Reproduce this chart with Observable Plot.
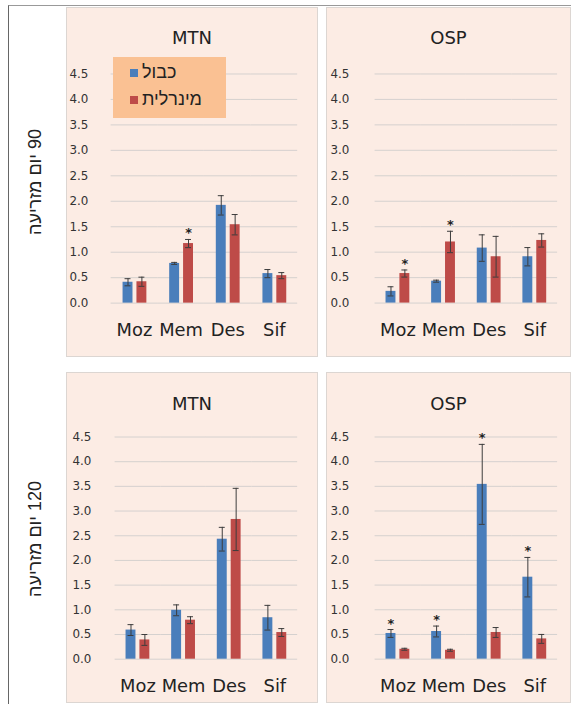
<!DOCTYPE html>
<html><head><meta charset="utf-8">
<script src="https://cdn.jsdelivr.net/npm/d3@7"></script>
<script src="https://cdn.jsdelivr.net/npm/@observablehq/plot@0.6"></script>
<style>
body{margin:0;background:#fff;width:571px;height:708px;overflow:hidden;position:relative;font-family:"DejaVu Sans",sans-serif;}
#frame{position:absolute;left:8px;top:5px;right:-2px;bottom:4px;border-left:1px solid #666;border-top:1px solid #999;}
.panel{position:absolute;background:#fcece4;border:1px solid #dcd6d2;box-sizing:border-box;}
.panel svg{position:absolute;left:0;top:0;}
.title{position:absolute;left:0;right:0;text-align:center;font-size:18px;color:#222;}
.rowlab{position:absolute;width:220px;height:22px;line-height:22px;text-align:center;transform:rotate(-90deg);direction:rtl;font-family:"Liberation Sans",sans-serif;font-size:18px;color:#222;white-space:nowrap;}
.legend{position:absolute;left:46px;top:49px;width:113px;height:61px;background:#fac193;}
.legend .item{position:absolute;left:17px;display:flex;align-items:center;font-family:"Liberation Sans",sans-serif;font-size:18px;color:#222;}
.legend .sw{width:8px;height:8px;margin-right:4px;}
</style>
</head><body>
<div id="frame"></div>
<div id="root"></div>
<script>
const categories = ["Moz", "Mem", "Des", "Sif"];
const series = ["כבול", "מינרלית"];
const seriesColors = ["#4a7ebb", "#be4b48"];
const yTicks = [0, 0.5, 1, 1.5, 2, 2.5, 3, 3.5, 4, 4.5];
const rowLabels = ["90 יום מזריעה", "120 יום מזריעה"];
const panelTitles = ["MTN", "OSP", "MTN", "OSP"];

// 90 days, MTN
const mtn90Peat = [0.41, 0.78, 1.92, 0.58];
const mtn90PeatErr = [0.07, 0.02, 0.19, 0.08];
const mtn90PeatSig = [0, 0, 0, 0];
const mtn90Min = [0.42, 1.17, 1.54, 0.54];
const mtn90MinErr = [0.09, 0.08, 0.20, 0.06];
const mtn90MinSig = [0, 1, 0, 0];
// 90 days, OSP
const osp90Peat = [0.23, 0.43, 1.08, 0.91];
const osp90PeatErr = [0.09, 0.02, 0.26, 0.18];
const osp90PeatSig = [0, 0, 0, 0];
const osp90Min = [0.58, 1.20, 0.91, 1.23];
const osp90MinErr = [0.07, 0.21, 0.40, 0.13];
const osp90MinSig = [1, 1, 0, 0];
// 120 days, MTN
const mtn120Peat = [0.59, 0.99, 2.43, 0.84];
const mtn120PeatErr = [0.11, 0.11, 0.24, 0.25];
const mtn120PeatSig = [0, 0, 0, 0];
const mtn120Min = [0.39, 0.79, 2.83, 0.54];
const mtn120MinErr = [0.11, 0.07, 0.63, 0.08];
const mtn120MinSig = [0, 0, 0, 0];
// 120 days, OSP
const osp120Peat = [0.52, 0.56, 3.54, 1.66];
const osp120PeatErr = [0.08, 0.11, 0.81, 0.40];
const osp120PeatSig = [1, 1, 1, 1];
const osp120Min = [0.20, 0.18, 0.54, 0.41];
const osp120MinErr = [0.02, 0.02, 0.10, 0.09];
const osp120MinSig = [0, 0, 0, 0];

function rowsOf(peat, peatErr, peatSig, min, minErr, minSig) {
  const rows = [];
  categories.forEach((c, i) => {
    rows.push({cat: c, s: series[0], v: peat[i], e: peatErr[i], sig: peatSig[i]});
    rows.push({cat: c, s: series[1], v: min[i], e: minErr[i], sig: minSig[i]});
  });
  return rows;
}

const panelData = [
  rowsOf(mtn90Peat, mtn90PeatErr, mtn90PeatSig, mtn90Min, mtn90MinErr, mtn90MinSig),
  rowsOf(osp90Peat, osp90PeatErr, osp90PeatSig, osp90Min, osp90MinErr, osp90MinSig),
  rowsOf(mtn120Peat, mtn120PeatErr, mtn120PeatSig, mtn120Min, mtn120MinErr, mtn120MinSig),
  rowsOf(osp120Peat, osp120PeatErr, osp120PeatSig, osp120Min, osp120MinErr, osp120MinSig)
];

// layout of the four panels (page boxes) and plot margins
const layout = [
  {left: 66, top: 7, w: 252, h: 350, ml: 44, mr: 20, mt: 66, mb: 53, tp: 23, titleTop: 19},
  {left: 326, top: 7, w: 245, h: 350, ml: 47, mr: 13, mt: 66, mb: 53, tp: 26, titleTop: 19},
  {left: 66, top: 372, w: 252, h: 331, ml: 47, mr: 20, mt: 64, mb: 43, tp: 24, titleTop: 20},
  {left: 326, top: 372, w: 245, h: 331, ml: 47, mr: 13, mt: 64, mb: 43, tp: 26, titleTop: 20}
];

const root = document.getElementById("root");

rowLabels.forEach((t, i) => {
  const d = document.createElement("div");
  d.className = "rowlab";
  const cy = i === 0 ? 182 : 539;
  d.style.left = (35 - 110) + "px";
  d.style.top = (cy - 11) + "px";
  d.textContent = t;
  root.appendChild(d);
});

panelData.forEach((rows, k) => {
  const L = layout[k];
  const div = document.createElement("div");
  div.className = "panel";
  Object.assign(div.style, {left: L.left + "px", top: L.top + "px", width: L.w + "px", height: L.h + "px"});
  const chart = Plot.plot({
    width: L.w, height: L.h,
    marginLeft: L.ml, marginRight: L.mr, marginTop: L.mt, marginBottom: L.mb,
    style: {background: "transparent", fontFamily: "DejaVu Sans", fontSize: "12px", color: "#404040", overflow: "visible"},
    fx: {domain: categories, padding: 0, label: null},
    x: {domain: series, paddingInner: 0.3, paddingOuter: 0.78, axis: null},
    y: {domain: [0, 4.5], label: null},
    color: {domain: series, range: seriesColors},
    marks: [
      Plot.gridY(yTicks, {stroke: "#d4d0ce", strokeOpacity: 1}),
      Plot.axisY(yTicks, {tickSize: 0, tickPadding: L.tp, tickFormat: d3.format(".1f"), fill: "#333", label: null}),
      Plot.axisFx({anchor: "bottom", tickSize: 0, tickPadding: 20, fontSize: 18, fill: "#222", label: null}),
      Plot.barY(rows, {fx: "cat", x: "s", y: "v", fill: "s"}),
      Plot.ruleX(rows, {fx: "cat", x: "s", y1: d => d.v - d.e, y2: d => d.v + d.e, stroke: "#3c3c3c", strokeWidth: 1}),
      Plot.tickY(rows, {fx: "cat", x: "s", y: d => d.v + d.e, stroke: "#3c3c3c", insetLeft: 2, insetRight: 2}),
      Plot.tickY(rows, {fx: "cat", x: "s", y: d => d.v - d.e, stroke: "#3c3c3c", insetLeft: 2, insetRight: 2}),
      Plot.text(rows.filter(d => d.sig), {fx: "cat", x: "s", y: d => d.v + d.e, text: () => "*", fontSize: 13, fontWeight: "bold", fill: "#222", lineAnchor: "bottom", dy: -2})
    ]
  });
  div.appendChild(chart);
  const title = document.createElement("div");
  title.className = "title";
  title.style.top = L.titleTop + "px";
  title.textContent = panelTitles[k];
  div.appendChild(title);
  if (k === 0) {
    const lg = document.createElement("div");
    lg.className = "legend";
    series.forEach((s, i) => {
      const it = document.createElement("div");
      it.className = "item";
      it.style.top = (i === 0 ? 5 : 32) + "px";
      const sw = document.createElement("span");
      sw.className = "sw";
      sw.style.background = seriesColors[i];
      const tx = document.createElement("span");
      tx.dir = "rtl";
      tx.textContent = s;
      it.appendChild(sw);
      it.appendChild(tx);
      lg.appendChild(it);
    });
    div.appendChild(lg);
  }
  root.appendChild(div);
});
</script>
</body></html>
